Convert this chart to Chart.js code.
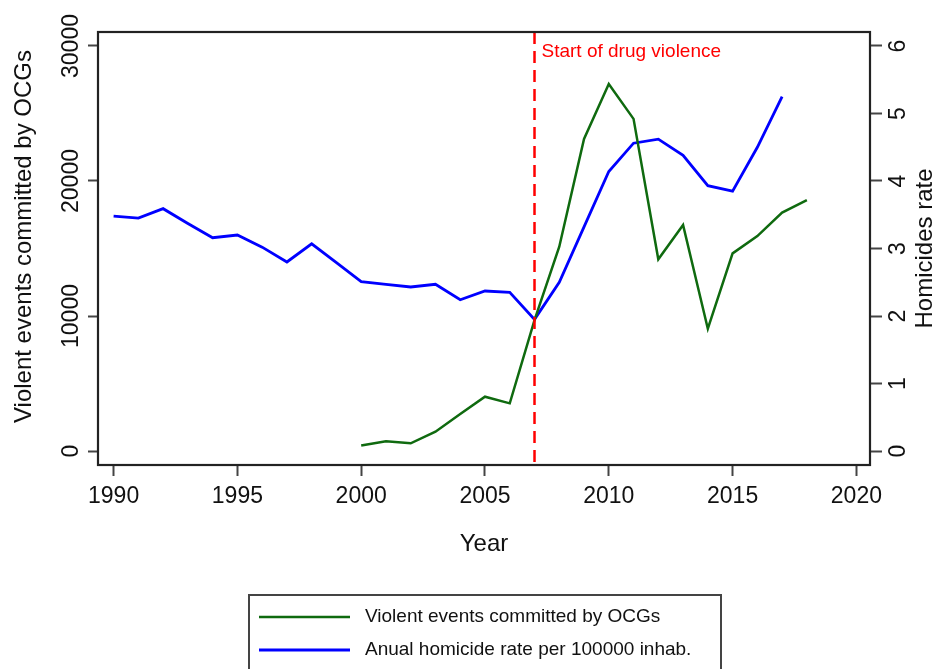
<!DOCTYPE html>
<html>
<head>
<meta charset="utf-8">
<title>Violent events and homicide rate</title>
<script src="https://cdn.jsdelivr.net/npm/chart.js@4.4.1/dist/chart.umd.min.js"></script>
<style>
  html, body { margin: 0; padding: 0; background: #fff; }
  #chart { display: block; }
</style>
</head>
<body>
<canvas id="chart" width="934" height="669"></canvas>
<script>
// violent events committed by organised crime groups (left axis)
const eventYears = [2000, 2001, 2002, 2003, 2004, 2005, 2006, 2007, 2008, 2009,
  2010, 2011, 2012, 2013, 2014, 2015, 2016, 2017, 2018];
const violentEvents = [400, 720, 570, 1430, 2740, 4020, 3530, 9700, 15130, 23120,
  27190, 24600, 14200, 16740, 9060, 14640, 15920, 17660, 18590];

// annual homicide rate per 100000 inhabitants (right axis)
const rateYears = [1990, 1991, 1992, 1993, 1994, 1995, 1996, 1997, 1998, 1999,
  2000, 2001, 2002, 2003, 2004, 2005, 2006, 2007, 2008, 2009,
  2010, 2011, 2012, 2013, 2014, 2015, 2016, 2017];
const homicideRate = [3.48, 3.45, 3.59, 3.37, 3.16, 3.20, 3.02, 2.80, 3.07, 2.79,
  2.51, 2.47, 2.43, 2.47, 2.24, 2.37, 2.35, 1.95, 2.50, 3.32,
  4.14, 4.56, 4.62, 4.38, 3.93, 3.85, 4.50, 5.25];

const xTicks = [1990, 1995, 2000, 2005, 2010, 2015, 2020];
const eventTicks = [0, 10000, 20000, 30000];
const rateTicks = [0, 1, 2, 3, 4, 5, 6];

const markerYear = 2007;
const markerLabel = 'Start of drug violence';
const eventsLabel = 'Violent events committed by OCGs';
const rateLabel = 'Anual homicide rate per 100000 inhab.';
const rateTitle = 'Homicides rate';

const FONT = "'Liberation Sans', Arial, sans-serif";
Chart.defaults.font.family = FONT;
Chart.defaults.color = '#111';

const GREEN = '#0f6a0f';
const BLUE = '#0000ff';

const toPoints = (xs, ys) => xs.map((x, i) => ({ x, y: ys[i] }));
const fixedTicks = list => scale => { scale.ticks = list.map(v => ({ value: v })); };

// plot frame, drug-violence marker, rotated axis titles and boxed legend
const decorations = {
  id: 'decorations',
  afterDatasetsDraw(chart) {
    const { ctx, chartArea: a, scales } = chart;
    const mx = scales.x.getPixelForValue(markerYear);
    ctx.save();
    ctx.strokeStyle = '#ff0000';
    ctx.lineWidth = 2.5;
    ctx.setLineDash([12, 7]);
    ctx.beginPath();
    ctx.moveTo(mx, a.top);
    ctx.lineTo(mx, a.bottom);
    ctx.stroke();
    ctx.setLineDash([]);
    ctx.fillStyle = '#ff0000';
    ctx.font = `19px ${FONT}`;
    ctx.textAlign = 'left';
    ctx.textBaseline = 'alphabetic';
    ctx.fillText(markerLabel, mx + 7, a.top + 25);

    ctx.strokeStyle = '#222';
    ctx.lineWidth = 2.2;
    ctx.strokeRect(a.left, a.top, a.right - a.left, a.bottom - a.top);
    ctx.restore();
  },
  afterDraw(chart) {
    const { ctx, height } = chart;
    ctx.save();
    ctx.fillStyle = '#111';
    ctx.font = `24px ${FONT}`;
    ctx.textAlign = 'center';
    ctx.textBaseline = 'alphabetic';
    // both y titles read bottom to top
    [[31, 236.5, eventsLabel], [932, 248.5, rateTitle]].forEach(([x, y, t]) => {
      ctx.save();
      ctx.translate(x, y);
      ctx.rotate(-Math.PI / 2);
      ctx.fillText(t, 0, 0);
      ctx.restore();
    });

    // legend box below the x axis
    const top = height - chart.options.layout.padding.bottom;
    ctx.strokeStyle = '#444';
    ctx.lineWidth = 2;
    ctx.strokeRect(249, top, 472, 120);
    ctx.font = `19px ${FONT}`;
    ctx.textAlign = 'left';
    ctx.textBaseline = 'middle';
    chart.data.datasets.forEach((ds, i) => {
      const y = top + 22 + i * 33;
      ctx.strokeStyle = ds.borderColor;
      ctx.lineWidth = ds.borderWidth;
      ctx.beginPath();
      ctx.moveTo(259, y);
      ctx.lineTo(350, y);
      ctx.stroke();
      ctx.fillStyle = '#111';
      ctx.fillText(ds.label, 365, y);
    });
    ctx.restore();
  }
};

new Chart(document.getElementById('chart'), {
  type: 'line',
  data: {
    datasets: [
      {
        label: eventsLabel,
        data: toPoints(eventYears, violentEvents),
        yAxisID: 'y',
        borderColor: GREEN,
        borderWidth: 2.5,
        pointRadius: 0,
        tension: 0
      },
      {
        label: rateLabel,
        data: toPoints(rateYears, homicideRate),
        yAxisID: 'y1',
        borderColor: BLUE,
        borderWidth: 2.8,
        pointRadius: 0,
        tension: 0
      }
    ]
  },
  options: {
    responsive: false,
    animation: false,
    devicePixelRatio: 1,
    layout: { padding: { left: 0, right: 0, top: 32, bottom: 74 } },
    plugins: { legend: { display: false }, tooltip: { enabled: false } },
    scales: {
      x: {
        type: 'linear',
        min: 1989.37,
        max: 2020.55,
        afterBuildTicks: fixedTicks(xTicks),
        afterFit: s => { s.height = 130; },
        border: { display: false },
        grid: { drawOnChartArea: false, tickLength: 11, tickWidth: 2, tickColor: '#444' },
        ticks: { font: { size: 23 }, padding: 7, maxRotation: 0, callback: v => String(v) },
        title: { display: true, text: 'Year', font: { size: 24 }, padding: { top: 0, bottom: 36 } }
      },
      y: {
        type: 'linear',
        position: 'left',
        min: -1037,
        max: 31037,
        afterBuildTicks: fixedTicks(eventTicks),
        afterFit: s => { s.width = 98; },
        border: { display: false },
        grid: { drawOnChartArea: false, tickLength: 10, tickWidth: 2, tickColor: '#444' },
        ticks: { font: { size: 23 }, minRotation: 90, maxRotation: 90, crossAlign: 'center', padding: -15.5, callback: v => String(v) }
      },
      y1: {
        type: 'linear',
        position: 'right',
        min: -0.2074,
        max: 6.2074,
        afterBuildTicks: fixedTicks(rateTicks),
        afterFit: s => { s.width = 64; },
        border: { display: false },
        grid: { drawOnChartArea: false, tickLength: 12, tickWidth: 2, tickColor: '#444' },
        ticks: { font: { size: 23 }, minRotation: 90, maxRotation: 90, crossAlign: 'center', padding: 10.6, callback: v => String(v) }
      }
    }
  },
  plugins: [decorations]
});
</script>
</body>
</html>
